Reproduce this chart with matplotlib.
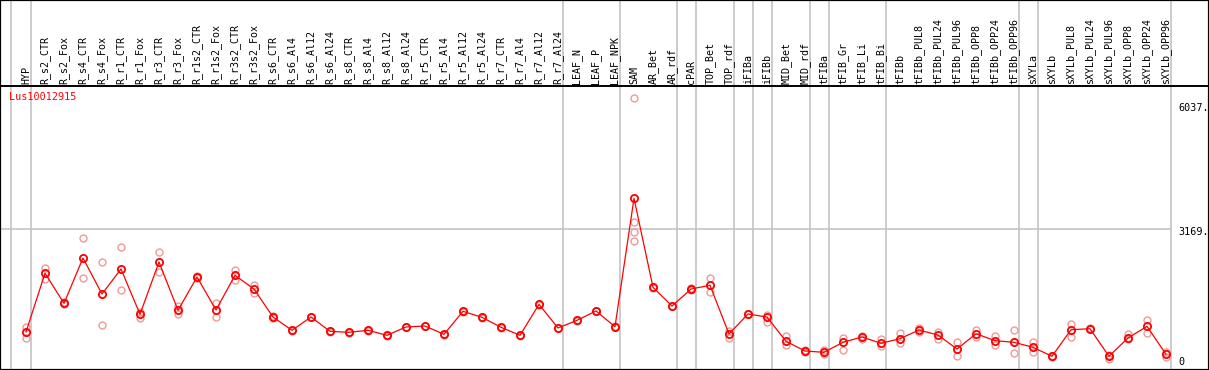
import matplotlib
matplotlib.use("Agg")
import matplotlib.pyplot as plt
from matplotlib.lines import Line2D
import matplotlib.transforms as mtransforms

categories = [
    "HYP",
    "R_s2_CTR", "R_s2_Fox", "R_s4_CTR", "R_s4_Fox", "R_r1_CTR", "R_r1_Fox",
    "R_r3_CTR", "R_r3_Fox", "R_r1s2_CTR", "R_r1s2_Fox", "R_r3s2_CTR", "R_r3s2_Fox",
    "R_s6_CTR", "R_s6_Al4", "R_s6_Al12", "R_s6_Al24",
    "R_s8_CTR", "R_s8_Al4", "R_s8_Al12", "R_s8_Al24",
    "R_r5_CTR", "R_r5_Al4", "R_r5_Al12", "R_r5_Al24",
    "R_r7_CTR", "R_r7_Al4", "R_r7_Al12", "R_r7_Al24",
    "LEAF_N", "LEAF_P", "LEAF_NPK",
    "SAM", "AR_Bet", "AR_rdf",
    "cPAR",
    "TOP_Bet", "TOP_rdf",
    "iFIBa",
    "iFIBb",
    "MID_Bet", "MID_rdf",
    "tFIBa",
    "tFIB_Gr", "tFIB_Li", "tFIB_Bi",
    "tFIBb", "tFIBb_PUL8", "tFIBb_PUL24", "tFIBb_PUL96", "tFIBb_OPP8", "tFIBb_OPP24", "tFIBb_OPP96",
    "sXYLa",
    "sXYLb", "sXYLb_PUL8", "sXYLb_PUL24", "sXYLb_PUL96", "sXYLb_OPP8", "sXYLb_OPP24", "sXYLb_OPP96",
]

group_sizes = [1, 28, 3, 3, 1, 2, 1, 1, 2, 1, 3, 7, 1, 7]

mean_values = [
    791,
    2146, 1453, 2498, 1668, 2245, 1200, 2406, 1292, 2060, 1299, 2099, 1783,
    1137, 831, 1137, 807,
    784, 831, 715, 907,
    930, 738, 1269, 1130,
    900, 715, 1430, 884,
    1061, 1276, 914,
    3876, 1823, 1391,
    1783,
    1869, 745,
    1207,
    1137,
    577, 353,
    323,
    554, 676, 531,
    637, 837, 722, 399, 752, 591, 554,
    438,
    231, 844, 867, 231, 653, 923, 277,
]

replicates = [
    [900, 660],
    [2268, 2021], [1483, 1437], [2953, 2030], [2399, 953], [2745, 1760], [1260, 1121],
    [2630, 2169], [1391, 1207], [2076, 2044], [1460, 1130], [2222, 1998], [1883, 1684],
    [1150, 1125], [840, 822], [1145, 1130], [815, 800],
    [790, 778], [838, 824], [722, 708], [915, 900],
    [938, 922], [745, 731], [1276, 1262], [1138, 1122],
    [907, 893], [722, 708], [1437, 1423], [891, 877],
    [1068, 1054], [1283, 1269], [921, 907],
    [6183, 3322, 3091, 2884], [1830, 1816], [1398, 1384],
    [1806, 1760],
    [2030, 1721], [821, 660],
    [1214, 1200],
    [1183, 1029],
    [692, 484], [375, 331],
    [369, 284],
    [660, 369], [710, 640], [637, 475],
    [761, 531], [890, 784], [798, 637], [554, 238], [837, 683], [692, 491], [831, 300],
    [554, 323],
    [238, 224], [969, 683], [875, 859], [261, 175], [745, 623], [1061, 761], [323, 215],
]

axis_labels = ["6037.", "3169.", "0"]
axis_values = [6037, 3169, 0]
gene_id = "Lus10012915"

# ---- layout (pixels) ----
W, H = 1209, 370
x0_px, dx_px = 26.0, 19.0          # centre of first column, column spacing
base_px, px_per_unit = 366.3, 0.04334  # y pixel of value 0, scale
header_px = 85.5

fig = plt.figure(figsize=(W / 100, H / 100), dpi=100)
ax = fig.add_axes([0, 0, 1, 1])
ax.set_xlim((0 - x0_px) / dx_px, (W - x0_px) / dx_px)
ax.set_ylim((base_px - H) / px_per_unit, base_px / px_per_unit)
ax.set_xticks([])
ax.set_yticks([])
for s in ax.spines.values():
    s.set_color("black")
    s.set_linewidth(1.6)

mono = "DejaVu Sans Mono"
grey = "#c4c4c4"

# vertical group separators
ends = [-1]
acc = -1
for g in group_sizes:
    acc += g
    ends.append(acc)
for e in ends:
    xb = e + 0.24 if e >= 0 else e + 0.2
    ax.axvline(xb, color=grey, lw=1.2, zorder=1)

# horizontal grid at middle label
xfrac_end = (x0_px + dx_px * (ends[-1] + 0.24)) / W
ax.plot([0, xfrac_end], [axis_values[1], axis_values[1]], color=grey, lw=1.2,
        transform=mtransforms.blended_transform_factory(ax.transAxes, ax.transData), zorder=1)

# header line
ax.add_line(Line2D([0, 1], [1 - header_px / H] * 2, transform=ax.transAxes,
                   color="black", lw=1.4, zorder=3))

# category labels
btrans = mtransforms.blended_transform_factory(ax.transData, ax.transAxes)
for i, c in enumerate(categories):
    ax.text(i, 1 - 83.5 / H, c, rotation=90, ha="center", va="bottom",
            fontsize=7.2, family=mono, transform=btrans, color="black")

# gene id
ax.text(9 / W, 1 - 97.5 / H, gene_id, color="red", fontsize=7.3, family=mono,
        ha="left", va="center", transform=ax.transAxes)

# axis value labels
rtrans = mtransforms.blended_transform_factory(ax.transAxes, ax.transData)
offsets = [-3, -3, 4.6]
for lab, v, off in zip(axis_labels, axis_values, offsets):
    ax.annotate(lab, xy=(1178 / W, v), xycoords=rtrans, xytext=(0, off),
                textcoords="offset pixels", ha="left", va="center",
                fontsize=7.3, family=mono, color="black")

# replicates
for i, reps in enumerate(replicates):
    ax.plot([i] * len(reps), reps, linestyle="none", marker="o", markersize=5.0,
            markerfacecolor="none", markeredgecolor="#ee9a9a", markeredgewidth=1.0, zorder=4)

# mean line
xs = list(range(len(categories)))
ax.plot(xs, mean_values, color="red", lw=0.9, zorder=5)
ax.plot(xs, mean_values, linestyle="none", marker="o", markersize=5.2,
        markerfacecolor="none", markeredgecolor="red", markeredgewidth=1.3, zorder=6)

fig.savefig("out.png", dpi=100)
